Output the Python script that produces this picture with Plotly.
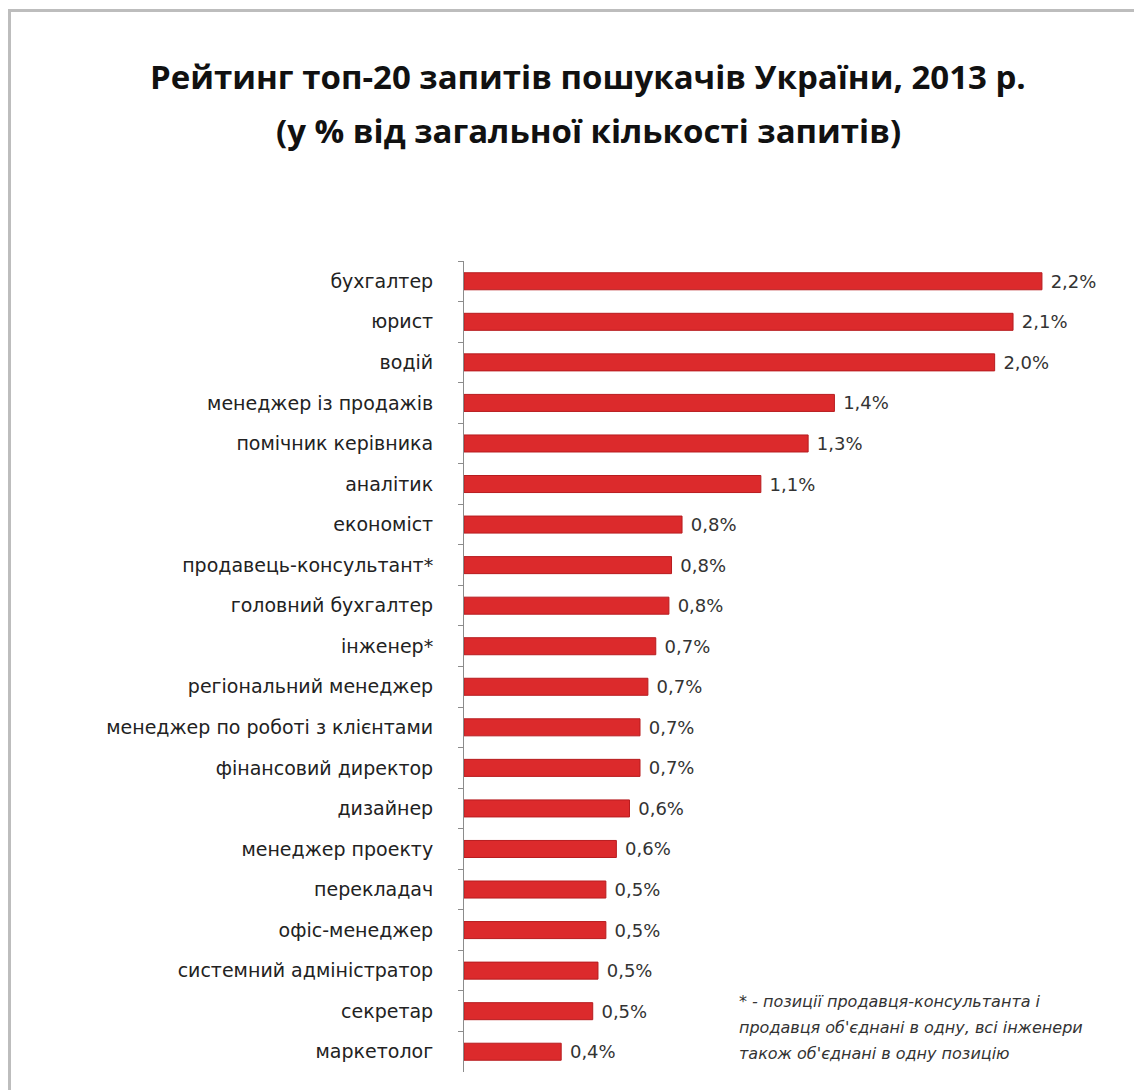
import plotly.graph_objects as go

# Top-20 job-seeker queries in Ukraine, 2013 (% of all queries), top to bottom
categories = [
    "бухгалтер", "юрист", "водій", "менеджер із продажів", "помічник керівника",
    "аналітик", "економіст", "продавець-консультант*", "головний бухгалтер",
    "інженер*", "регіональний менеджер", "менеджер по роботі з клієнтами",
    "фінансовий директор", "дизайнер", "менеджер проекту", "перекладач",
    "офіс-менеджер", "системний адміністратор", "секретар", "маркетолог",
]
shares = [
    2.20, 2.09, 2.02, 1.41, 1.31,
    1.13, 0.83, 0.79, 0.78,
    0.73, 0.70, 0.67,
    0.67, 0.63, 0.58, 0.54,
    0.54, 0.51, 0.49, 0.37,
]

title_lines = [
    "Рейтинг топ-20 запитів пошукачів України, 2013 р.",
    "(у % від загальної кількості запитів)",
]
footnote_lines = [
    "* - позиції продавця-консультанта і",
    "продавця об'єднані в одну, всі інженери",
    "також об'єднані в одну позицію",
]

W, H = 1134, 1090
ML, MR, MT, MB = 464, 50, 261, 18
PW, PH = W - ML - MR, H - MT - MB


def px_x(x):
    """Pixel x on the page -> paper x."""
    return (x - ML) / PW


def px_y(y):
    """Pixel y on the page (from top) -> paper y."""
    return 1 - (y - MT) / PH


fig = go.Figure(
    go.Bar(
        x=shares,
        y=categories,
        orientation="h",
        marker=dict(color="#dc2a2c", line=dict(color="#b71c1f", width=1)),
        texttemplate=" %{x:.1f}%",
        textposition="outside",
        constraintext="none",
        textfont=dict(family="DejaVu Sans", size=18, color="#333333"),
        cliponaxis=False,
        hoverinfo="skip",
    )
)

fig.update_layout(
    width=W,
    height=H,
    margin=dict(l=ML, r=MR, t=MT, b=MB),
    paper_bgcolor="white",
    plot_bgcolor="white",
    separators=", ",
    showlegend=False,
    bargap=0.58,
)

fig.update_xaxes(range=[0, PW / 262.7], visible=False)
fig.update_yaxes(
    autorange=False,
    range=[len(categories) - 0.5, -0.5],
    showline=True,
    linecolor="#8c8c8c",
    linewidth=1,
    ticks="outside",
    tickson="boundaries",
    ticklen=5,
    tickcolor="#8c8c8c",
    showgrid=False,
    ticklabelstandoff=26,
    tickfont=dict(family="DejaVu Sans", size=19, color="#222222"),
)

# Two-line bold title
for line, y in zip(title_lines, [76, 130]):
    fig.add_annotation(
        text="<b>" + line + "</b>",
        xref="paper", yref="paper",
        x=px_x(588), y=px_y(y),
        xanchor="center", yanchor="middle",
        showarrow=False,
        font=dict(family="Open Sans", size=33, color="#111111"),
    )

# Footnote, lower right
for line, y in zip(footnote_lines, [1001, 1027, 1053]):
    fig.add_annotation(
        text="<i>" + line + "</i>",
        xref="paper", yref="paper",
        x=px_x(737), y=px_y(y),
        xanchor="left", yanchor="middle",
        showarrow=False,
        font=dict(family="DejaVu Sans", size=16, color="#333333"),
    )

# Grey outer frame (top and left edges visible)
fig.add_shape(
    type="rect",
    xref="paper", yref="paper",
    x0=px_x(9.5), x1=px_x(W + 20),
    y0=px_y(H + 20), y1=px_y(10.5),
    line=dict(color="#bdbdbd", width=3),
    fillcolor="rgba(0,0,0,0)",
    layer="below",
)

fig.write_html("out.html")
